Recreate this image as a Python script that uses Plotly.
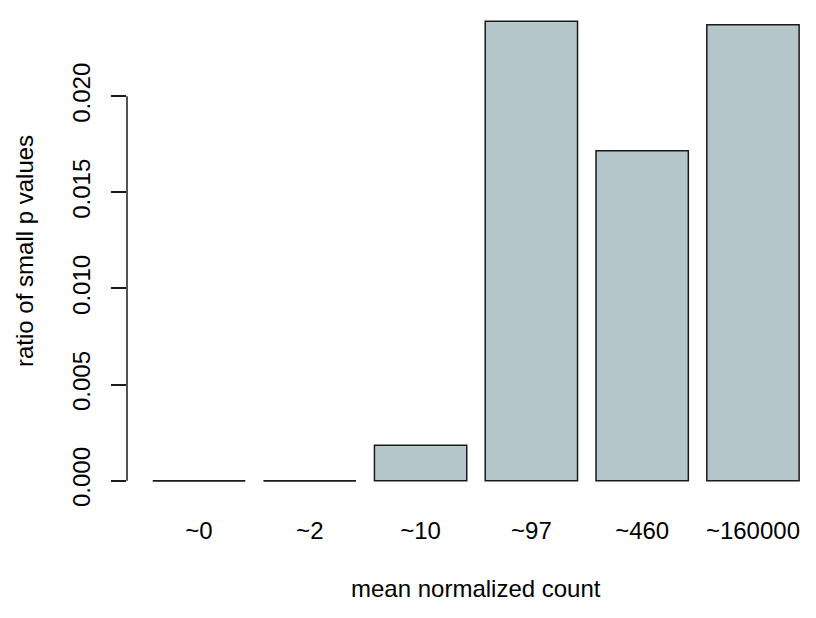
import plotly.graph_objects as go

categories = ["~0", "~2", "~10", "~97", "~460", "~160000"]
ratios = [0.0, 0.0, 0.00184, 0.0239, 0.01717, 0.02373]
y_ticks = [0.0, 0.005, 0.010, 0.015, 0.020]
y_tick_labels = ["0.000", "0.005", "0.010", "0.015", "0.020"]

FONT = "Liberation Sans, Arial, Helvetica, sans-serif"
FS = 24
BARGAP = 1 / 6
FILL = "#B4C6C9"
EDGE = "#1a1a1a"

fig = go.Figure()
fig.add_trace(go.Bar(
    x=categories, y=ratios,
    marker=dict(color=FILL, line=dict(color=EDGE, width=1.5)),
    hoverinfo="x+y",
))

shapes = []
half = (1 - BARGAP) / 2
for i, v in enumerate(ratios):
    if v == 0:
        shapes.append(dict(type="line", xref="x", yref="y",
                           x0=i - half, x1=i + half, y0=v, y1=v,
                           line=dict(color=EDGE, width=1.5)))
# R-style axis line spanning only the tick range
shapes.append(dict(type="line", xref="paper", yref="y", x0=0, x1=0,
                   y0=y_ticks[0], y1=y_ticks[-1],
                   line=dict(color=EDGE, width=1.5)))

ymax = max(ratios)
pad = 0.04 * ymax

fig.update_layout(
    width=816, height=618,
    margin=dict(l=127, r=0, t=3, b=119),
    paper_bgcolor="white", plot_bgcolor="white",
    font=dict(family=FONT, size=FS, color="black"),
    bargap=BARGAP,
    showlegend=False,
    shapes=shapes,
    xaxis=dict(
        type="category", range=[-0.65, 5.569],
        showline=False, showgrid=False, zeroline=False,
        ticks="", ticklabelstandoff=15,
        tickfont=dict(family=FONT, size=FS, color="black"),
        fixedrange=True,
    ),
    yaxis=dict(
        range=[-pad, ymax + pad],
        tickvals=y_ticks, ticktext=y_tick_labels,
        tickangle=-90,
        showline=False, showgrid=False, zeroline=False,
        ticks="outside", ticklen=15, tickwidth=1.5, tickcolor=EDGE,
        ticklabelstandoff=11,
        tickfont=dict(family=FONT, size=FS, color="black"),
        fixedrange=True,
    ),
    annotations=[
        dict(text="mean normalized count", xref="x", yref="paper",
             x=2.5, y=0, xanchor="center", yanchor="middle", yshift=-89,
             showarrow=False, font=dict(family=FONT, size=FS, color="black")),
        dict(text="ratio of small p values", xref="paper", yref="paper",
             x=0, y=0.5, xanchor="center", yanchor="middle", xshift=-103,
             textangle=-90, showarrow=False,
             font=dict(family=FONT, size=FS, color="black")),
    ],
)

fig.write_html(
    "out.html",
    config={"displayModeBar": False},
    post_script="document.body.style.margin='0';document.body.style.overflow='hidden';",
)
